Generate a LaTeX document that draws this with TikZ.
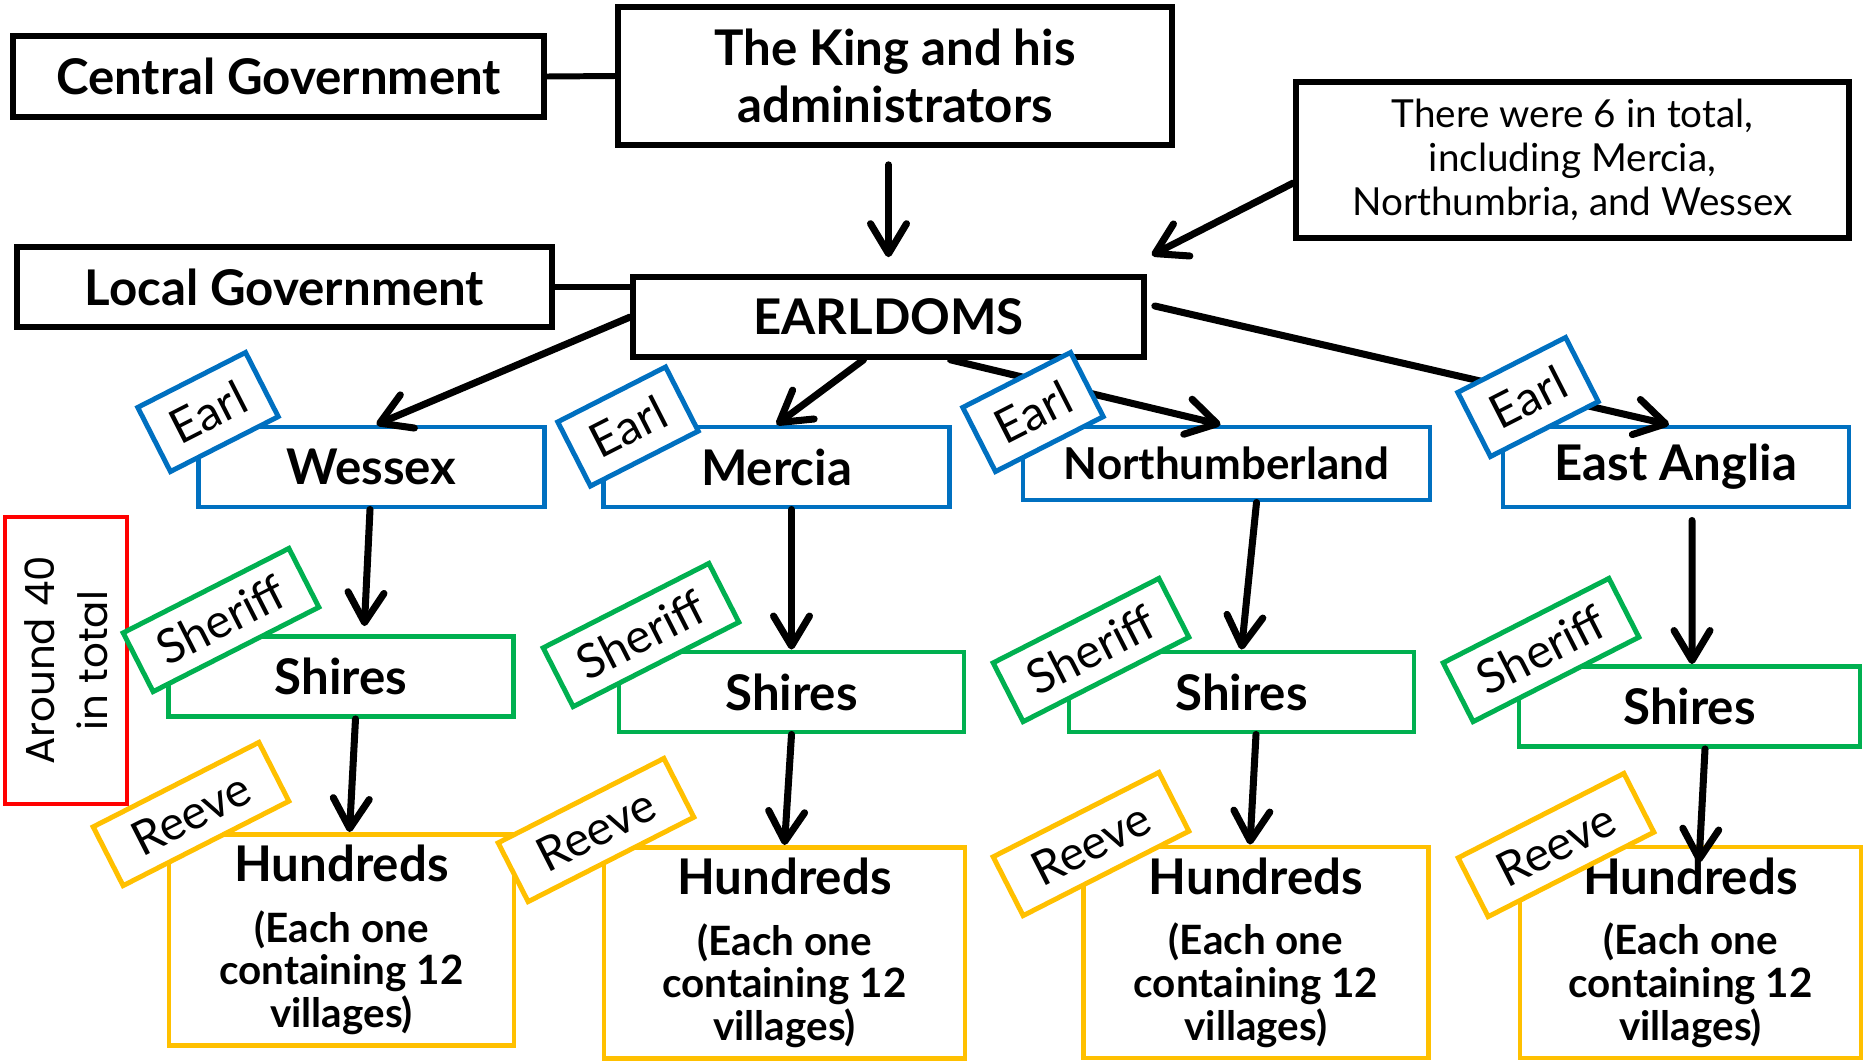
\documentclass[tikz,border=0pt]{standalone}
\usepackage{fontspec}
\setmainfont{Lato}
\newfontfamily\poppins{Poppins}
\usetikzlibrary{arrows.meta}

\definecolor{earlblue}{HTML}{0070C0}
\definecolor{sheriffgreen}{HTML}{00B050}
\definecolor{reevegold}{HTML}{FFC000}

\def\hundtext{{\fontsize{14}{16}\selectfont Hundreds}\\[5pt](Each one\\containing 12\\villages)}

\begin{document}
\begin{tikzpicture}[x=0.1mm,y=-0.1mm,line width=1.7pt,
    box/.style={draw,line width=1.6pt,fill=white,inner sep=0pt,align=center,
      font=\fontsize{14}{16}\selectfont\bfseries},
    earldom/.style={box,draw=earlblue,line width=1.4pt,minimum width=34.6mm,minimum height=8mm},
    shire/.style={box,draw=sheriffgreen,line width=1.4pt,minimum width=34.5mm,minimum height=8mm},
    hundred/.style={box,draw=reevegold,line width=1.4pt,minimum width=34.5mm,minimum height=21.1mm,
      font=\fontsize{11.5}{12.2}\selectfont\bfseries},
    tagbox/.style={draw,line width=1.4pt,fill=white,inner sep=0pt,rotate=27,
      font=\fontsize{13.5}{15}\selectfont},
    earl/.style={tagbox,draw=earlblue,minimum width=12.1mm,minimum height=7.2mm},
    sheriff/.style={tagbox,draw=sheriffgreen,minimum width=18.6mm,minimum height=6.6mm},
    reeve/.style={tagbox,draw=reevegold,minimum width=18.6mm,minimum height=6.6mm},
    arr/.style={-{Straight Barb[length=3mm,width=3.6mm,round]},line width=2pt,line cap=round}]

 \useasboundingbox (0,0) rectangle (1864,1061);

 % central and local government
 \node[box,minimum width=53.1mm,minimum height=8.1mm] (central) at (278.5,76.5) {Central Government};
 \node[box,minimum width=55.4mm,minimum height=13.8mm] (king) at (895,76) {The King and his\\administrators};
 \node[box,minimum width=53.5mm,minimum height=8mm] (local) at (284.5,287) {Local Government};
 \node[box,minimum width=51.1mm,minimum height=8mm] (earldoms) at (888.5,317) {EARLDOMS};
 \node[box,font=\fontsize{11}{12.5}\selectfont,minimum width=55.3mm,minimum height=15.6mm] (note)
   at (1572.5,160) {There were 6 in total,\\including Mercia,\\Northumbria, and Wessex};
 \node[draw=red,line width=1.4pt,rotate=90,inner sep=0pt,align=center,minimum width=28.7mm,
   minimum height=12.2mm,font=\poppins\fontsize{11.5}{15}\selectfont] (total) at (66,660.5) {Around 40\\in total};

 % earldoms, shires, hundreds
 \node[earldom] (wessex) at (371.5,467) {Wessex};
 \node[earldom] (mercia) at (776.5,467) {Mercia};
 \node[earldom,minimum width=40.7mm,minimum height=7.3mm,font=\fontsize{12.5}{14}\selectfont\bfseries]
   (northumberland) at (1226.5,463.5) {Northumberland};
 \node[earldom] (eastanglia) at (1676,467) {East Anglia};

 \node[shire] (shires1) at (341,676.5) {Shires};
 \node[shire] (shires2) at (791.5,692) {Shires};
 \node[shire] (shires3) at (1241.5,692) {Shires};
 \node[shire,minimum width=34.1mm] (shires4) at (1689.5,706.5) {Shires};

 \node[hundred] (hund1) at (341.5,940) {\hundtext};
 \node[hundred,minimum width=36.1mm] (hund2) at (784.5,953) {\hundtext};
 \node[hundred] (hund3) at (1256,952.5) {\hundtext};
 \node[hundred,minimum width=34.1mm] (hund4) at (1690.5,952.5) {\hundtext};

 % connectors
 \draw (central.east) -- (king.west);
 \draw (local.east) -- (local.east -| earldoms.west);
 \draw[arr,shorten <=1.7mm,shorten >=1.7mm] (king.south -| earldoms.north) -- (earldoms.north);
 \draw[arr] ([yshift=-2.3mm]note.west) -- ([xshift=0.5mm,yshift=1.9mm]earldoms.north east);

 \draw[arr] (earldoms.west) -- ([xshift=0.5mm]wessex.north);
 \draw[arr] ([xshift=-2.5mm]earldoms.south) -- (mercia.north);
 \draw[arr] ([xshift=6.2mm]earldoms.south) -- ([xshift=-0.6mm]northumberland.north);
 \draw[arr] ([xshift=0.8mm,yshift=1.1mm]earldoms.east) -- ([xshift=-0.7mm]eastanglia.north);

 \draw[arr,shorten >=0.8mm] ([xshift=-0.15mm]wessex.south) -- ([xshift=2.3mm]shires1.north);
 \draw[arr] ([xshift=1.45mm]shires1.south) -- ([xshift=0.8mm]hund1.north);
 \draw[arr] (mercia.south -| shires2.north) -- (shires2.north);
 \draw[arr] (shires2.south) -- (hund2.north);
 \draw[arr] ([xshift=3mm]northumberland.south) -- (shires3.north);
 \draw[arr] ([xshift=1.45mm]shires3.south) -- ([xshift=-0.6mm]hund3.north);
 \draw[arr,shorten <=1.1mm] ([xshift=1.6mm]eastanglia.south) -- ([xshift=0.25mm]shires4.north);
 \draw[arr] ([xshift=1.55mm]shires4.south) -- ([xshift=0.85mm,yshift=-1.8mm]hund4.north);

 % officers
 \node[earl] (earl1) at (208,412) {Earl};
 \node[earl] (earl2) at (628,426.5) {Earl};
 \node[earl] (earl3) at (1033,412) {Earl};
 \node[earl] (earl4) at (1528,397) {Earl};

 \node[sheriff] (sheriff1) at (221,620) {Sheriff};
 \node[sheriff] (sheriff2) at (641,635) {Sheriff};
 \node[sheriff] (sheriff3) at (1091,650) {Sheriff};
 \node[sheriff] (sheriff4) at (1541,650) {Sheriff};

 \node[reeve] (reeve1) at (191,814) {Reeve};
 \node[reeve] (reeve2) at (596,830) {Reeve};
 \node[reeve] (reeve3) at (1091,844) {Reeve};
 \node[reeve] (reeve4) at (1556,845) {Reeve};

\end{tikzpicture}
\end{document}
